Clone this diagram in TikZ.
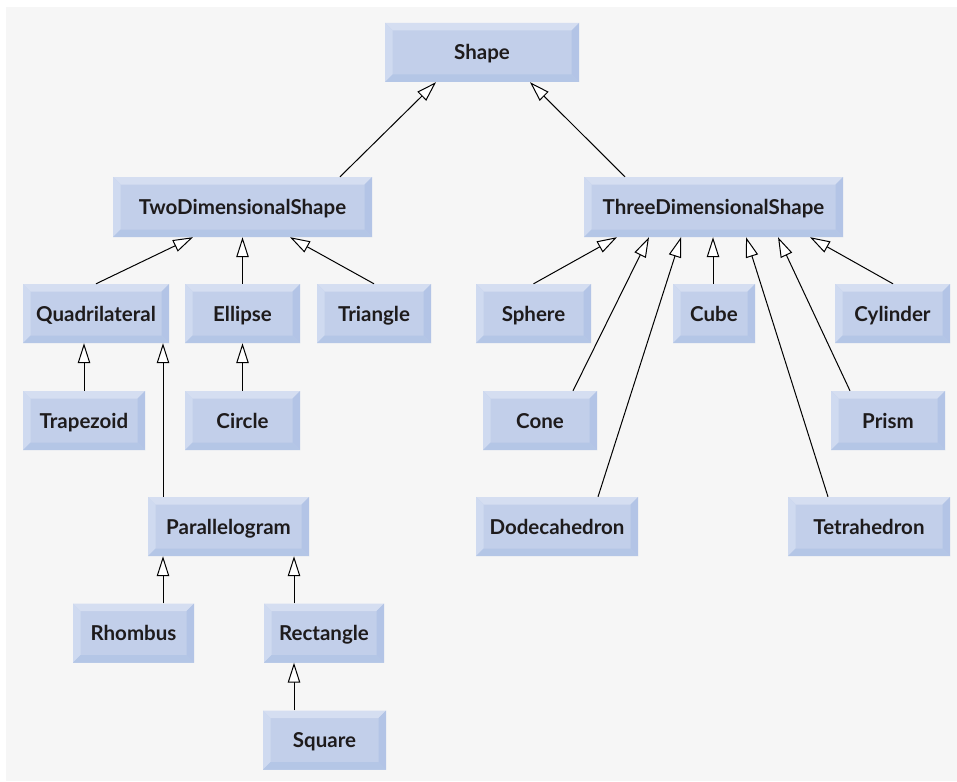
\documentclass[tikz,border=0pt]{standalone}
\usepackage{fontspec}
\setmainfont{Lato}
\usetikzlibrary{arrows.meta}
\definecolor{bgc}{HTML}{F6F6F6}
\definecolor{facec}{HTML}{C2CFEA}
\definecolor{topc}{HTML}{D5DEF1}
\definecolor{leftc}{HTML}{CFDAF0}
\definecolor{rightc}{HTML}{B3C4E6}
\definecolor{botc}{HTML}{B4C6E6}
\definecolor{txtc}{HTML}{1E1B1C}
\tikzset{
  bx/.style={rectangle, inner sep=0pt, minimum height=59pt, fill=facec,
    font=\fontsize{20.5}{24}\selectfont\bfseries, text=txtc,
    text height=15pt, text depth=0pt,
    path picture={
      \fill[topc] (path picture bounding box.north west) -- (path picture bounding box.north east)
        -- ([shift={(-7.5pt,-7.5pt)}]path picture bounding box.north east)
        -- ([shift={(7.5pt,-7.5pt)}]path picture bounding box.north west) -- cycle;
      \fill[leftc] (path picture bounding box.north west) -- (path picture bounding box.south west)
        -- ([shift={(7.5pt,7.5pt)}]path picture bounding box.south west)
        -- ([shift={(7.5pt,-7.5pt)}]path picture bounding box.north west) -- cycle;
      \fill[rightc] (path picture bounding box.north east) -- (path picture bounding box.south east)
        -- ([shift={(-7.5pt,7.5pt)}]path picture bounding box.south east)
        -- ([shift={(-7.5pt,-7.5pt)}]path picture bounding box.north east) -- cycle;
      \fill[botc] (path picture bounding box.south west) -- (path picture bounding box.south east)
        -- ([shift={(-7.5pt,7.5pt)}]path picture bounding box.south east)
        -- ([shift={(7.5pt,7.5pt)}]path picture bounding box.south west) -- cycle;
    }},
  inh/.style={-{Triangle[length=20pt,width=12.5pt,fill=white]}, line width=1pt, black}
}
\begin{document}
\begin{tikzpicture}[x=1pt,y=-1pt]
\useasboundingbox (0,0) rectangle (957,781);
\fill[bgc] (6,7) rectangle (957,781);
% nodes
\node[bx, minimum width=194pt] (shape) at (482,52.5) {Shape};
\node[bx, minimum width=259pt, minimum height=60pt] (two) at (242.5,207) {TwoDimensionalShape};
\node[bx, minimum width=259pt, minimum height=60pt] (three) at (713.5,207) {ThreeDimensionalShape};
\node[bx, minimum width=146pt] (quad) at (96,313.5) {Quadrilateral};
\node[bx, minimum width=115pt] (ellipse) at (242.5,313.5) {Ellipse};
\node[bx, minimum width=114pt] (triangle) at (374,313.5) {Triangle};
\node[bx, minimum width=122pt] (trap) at (84,420.5) {Trapezoid};
\node[bx, minimum width=115pt] (circle) at (242.5,420.5) {Circle};
\node[bx, minimum width=161pt] (para) at (228.5,526.5) {Parallelogram};
\node[bx, minimum width=121pt] (rhombus) at (133.5,633) {Rhombus};
\node[bx, minimum width=120pt] (rect) at (324,633) {Rectangle};
\node[bx, minimum width=123pt] (square) at (324.5,740) {Square};
\node[bx, minimum width=115pt] (sphere) at (533.5,313.5) {Sphere};
\node[bx, minimum width=82pt] (cube) at (714,313.5) {Cube};
\node[bx, minimum width=115pt] (cyl) at (892.5,313.5) {Cylinder};
\node[bx, minimum width=114pt] (cone) at (540,420.5) {Cone};
\node[bx, minimum width=114pt] (prism) at (888,420.5) {Prism};
\node[bx, minimum width=162pt] (dodeca) at (557,526.5) {Dodecahedron};
\node[bx, minimum width=162pt] (tetra) at (869,526.5) {Tetrahedron};
% connectors
\draw[inh] (two.north -| 340,0) -- (shape.south -| 436,0);
\draw[inh] (three.north -| 625,0) -- (shape.south -| 530,0);
\draw[inh] (quad.north -| 96,0) -- (two.south -| 193,0);
\draw[inh] (ellipse.north) -- (two.south -| 242.5,0);
\draw[inh] (triangle.north) -- (two.south -| 290,0);
\draw[inh] (trap.north) -- (quad.south -| 84,0);
\draw[inh] (para.north -| 163,0) -- (quad.south -| 163,0);
\draw[inh] (circle.north) -- (ellipse.south);
\draw[inh] (rhombus.north -| 163,0) -- (para.south -| 163,0);
\draw[inh] (rect.north -| 294,0) -- (para.south -| 294,0);
\draw[inh] (square.north -| 294,0) -- (rect.south -| 294,0);
\draw[inh] (sphere.north) -- (three.south -| 617,0);
\draw[inh] (cone.north -| 573,0) -- (three.south -| 649,0);
\draw[inh] (dodeca.north -| 598,0) -- (three.south -| 681,0);
\draw[inh] (cube.north -| 713,0) -- (three.south -| 713,0);
\draw[inh] (tetra.north -| 828,0) -- (three.south -| 746,0);
\draw[inh] (prism.north -| 850,0) -- (three.south -| 778,0);
\draw[inh] (cyl.north -| 893,0) -- (three.south -| 810,0);
\end{tikzpicture}
\end{document}
